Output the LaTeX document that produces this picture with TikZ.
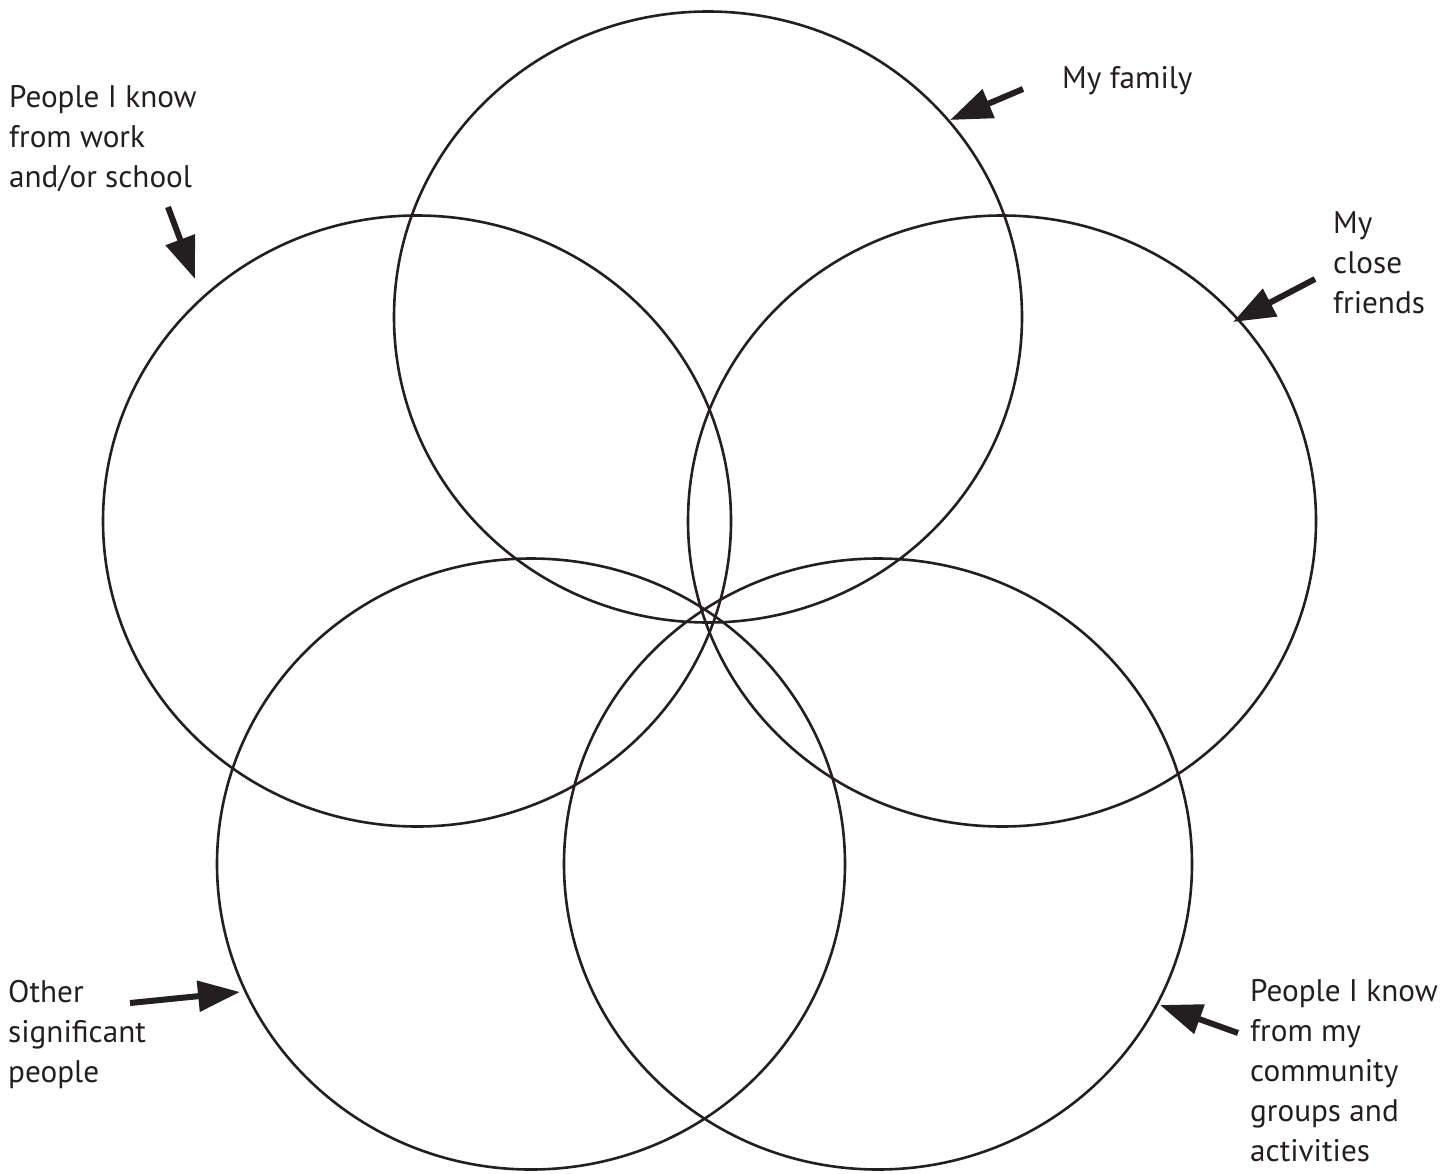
\documentclass[tikz,border=0pt]{standalone}
\usepackage{fontspec}
\setmainfont{PT Sans}
\usetikzlibrary{arrows.meta,shapes.geometric}
\definecolor{ink}{HTML}{231F20}
\begin{document}
\begin{tikzpicture}[x=1pt,y=-1pt,
  ring/.style={draw=ink,line width=2.6pt,ellipse,minimum width=628pt,minimum height=611pt,inner sep=0pt},
  lbl/.style={inner sep=0pt,anchor=base west,align=left,text=ink,font=\fontsize{31.2}{39.8}\selectfont},
  pointer/.style={draw=ink,fill=ink,line width=6pt,-{Triangle[length=42pt,width=30pt]}}]
\useasboundingbox (0,0) rectangle (1456,1173);
\node[ring] (family) at (708,317) {};
\node[ring] (work) at (417,521) {};
\node[ring] (friends) at (1002,521) {};
\node[ring] (other) at (531,864) {};
\node[ring] (community) at (878,864) {};
% base anchor = baseline of last line
\node[lbl] (tfamily) at (1062,88) {My family};
\node[lbl] (twork) at (9,187) {People I know\\from work\\and/or school};
\node[lbl] (tfriends) at (1333,313) {My\\close\\friends};
\node[lbl] (tother) at (8,1082) {Other\\significant\\people};
\node[lbl] (tcomm) at (1250,1161) {People I know\\from my\\community\\groups and\\activities};
\coordinate (afam0) at (1023,89);  \coordinate (afam1) at (950,120);
\coordinate (awork0) at (168,207); \coordinate (awork1) at (195,279);
\coordinate (afr0) at (1315,279);  \coordinate (afr1) at (1233,322);
\coordinate (aoth0) at (130,1003); \coordinate (aoth1) at (240,992);
\coordinate (acom0) at (1238,1033);\coordinate (acom1) at (1160,1005);
\draw[pointer] (afam0) -- (afam1);
\draw[pointer] (awork0) -- (awork1);
\draw[pointer] (afr0) -- (afr1);
\draw[pointer] (aoth0) -- (aoth1);
\draw[pointer] (acom0) -- (acom1);
\end{tikzpicture}
\end{document}
